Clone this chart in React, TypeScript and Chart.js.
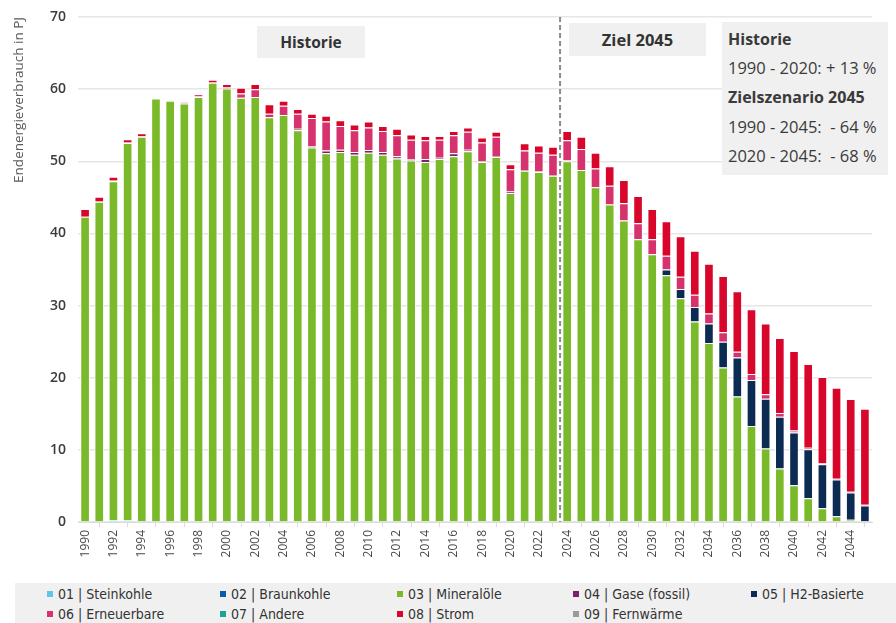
import React, { useEffect, useRef } from "react";
import Chart from "chart.js/auto";

const years = [
  "1990","1991","1992","1993","1994","1995","1996","1997","1998","1999",
  "2000","2001","2002","2003","2004","2005","2006","2007","2008","2009",
  "2010","2011","2012","2013","2014","2015","2016","2017","2018","2019",
  "2020","2021","2022","2023","2024","2025","2026","2027","2028","2029",
  "2030","2031","2032","2033","2034","2035","2036","2037","2038","2039",
  "2040","2041","2042","2043","2044","2045",
];

const xTickLabels = [
  "1990","","1992","","1994","","1996","","1998","",
  "2000","","2002","","2004","","2006","","2008","",
  "2010","","2012","","2014","","2016","","2018","",
  "2020","","2022","","2024","","2026","","2028","",
  "2030","","2032","","2034","","2036","","2038","",
  "2040","","2042","","2044","",
];

const yTicks = [0, 10, 20, 30, 40, 50, 60, 70];

// 01 | Steinkohle
const steinkohle = [
  0,0,0.25,0.25,0,0,0,0,0,0,
  0,0,0,0,0,0,0,0,0,0,
  0,0,0,0,0,0,0,0,0,0,
  0,0,0,0,0,0,0,0,0,0,
  0,0,0,0,0,0,0,0,0,0,
  0,0,0,0,0,0,
];
// 02 | Braunkohle
const braunkohle = [
  0,0,0,0,0,0,0,0,0,0,
  0,0,0,0,0,0,0,0,0,0,
  0,0,0,0,0,0,0,0,0,0,
  0,0,0,0,0,0,0,0,0,0,
  0,0,0,0,0,0,0,0,0,0,
  0,0,0,0,0,0,
];
// 03 | Mineralöle
const mineraloele = [
  42.3,44.4,47.0,52.3,53.4,58.7,58.4,58.0,58.9,60.9,
  60.1,58.8,58.9,56.1,56.4,54.3,51.9,51.1,51.3,50.9,
  51.2,50.9,50.4,50.1,49.9,50.3,50.7,51.4,49.9,50.6,
  45.6,48.7,48.5,48.0,50.0,48.8,46.4,44.0,41.8,39.2,
  37.1,34.2,31.0,27.8,24.8,21.4,17.4,13.3,10.2,7.4,
  5.1,3.3,1.9,0.8,0.3,0,
];
// 04 | Gase (fossil)
const gase = [
  0,0,0,0,0,0,0,0,0,0,
  0,0,0,0,0,0.2,0.2,0.4,0.3,0.4,
  0.35,0.4,0.3,0.2,0.4,0.2,0.4,0.2,0.1,0.1,
  0.2,0.1,0.1,0.1,0.1,0,0,0,0,0,
  0,0,0,0,0,0,0,0,0,0,
  0,0,0,0,0,0,
];
// 05 | H2-Basierte
const h2 = [
  0,0,0,0,0,0,0,0,0,0,
  0,0,0,0,0,0,0,0,0,0,
  0,0,0,0,0,0,0,0,0,0,
  0,0,0,0,0,0,0,0,0,0,
  0,0.8,1.3,2.0,2.7,3.6,5.4,6.4,6.9,7.2,
  7.3,6.8,6.1,5.1,3.8,2.3,
];
// 06 | Erneuerbare
const erneuerbare = [
  0,0.1,0.15,0.1,0.1,0,0,0.2,0.1,0.1,
  0.2,0.6,1.1,0.5,1.3,2.1,3.9,4.0,3.3,3.0,
  3.15,2.9,2.9,2.7,2.6,2.5,2.5,2.5,2.6,2.7,
  3.1,2.7,2.6,2.8,2.8,2.9,2.6,2.6,2.4,2.2,
  2.1,1.9,1.7,1.7,1.4,1.3,0.8,0.8,0.6,0.5,
  0.3,0.2,0.15,0.1,0.1,0.1,
];
// 07 | Andere
const andere = [
  0,0,0,0,0,0,0,0,0,0,
  0,0,0,0,0,0,0,0,0,0,
  0,0,0,0,0,0,0,0,0,0,
  0,0,0,0,0,0,0,0,0,0,
  0,0,0,0,0,0,0,0,0,0,
  0,0,0,0,0,0,
];
// 08 | Strom
const strom = [
  1.1,0.6,0.45,0.4,0.4,0,0,0,0.3,0.3,
  0.4,0.8,0.7,1.3,0.7,0.65,0.6,0.8,0.8,0.8,
  0.8,0.7,0.9,0.7,0.6,0.5,0.6,0.6,0.7,0.7,
  0.7,1.0,1.0,1.1,1.3,1.7,2.2,2.7,3.2,3.8,
  4.2,4.8,5.6,6.1,6.9,7.8,8.4,9.0,9.8,10.4,
  11.0,11.6,11.95,12.6,12.85,13.3,
];
// 09 | Fernwärme
const fernwaerme = [
  0,0,0,0,0,0,0,0,0,0,
  0,0,0,0,0,0,0,0,0,0,
  0,0,0,0,0,0,0,0,0,0,
  0,0,0,0,0,0,0,0,0,0,
  0,0,0,0,0,0,0,0,0,0,
  0,0,0,0,0,0,
];

const seriesNames = [
  "01 | Steinkohle",
  "02 | Braunkohle",
  "03 | Mineralöle",
  "04 | Gase (fossil)",
  "05 | H2-Basierte",
  "06 | Erneuerbare",
  "07 | Andere",
  "08 | Strom",
  "09 | Fernwärme",
];
const seriesColors = [
  "#5cc6e8",
  "#0b5bab",
  "#7ab929",
  "#7a2270",
  "#0b2b52",
  "#d6336e",
  "#17a59a",
  "#d7062a",
  "#9a9a9a",
];
const seriesData = [steinkohle, braunkohle, mineraloele, gase, h2, erneuerbare, andere, strom, fernwaerme];

const splitBefore = "2024";

const statLines = [
  { text: "Historie", bold: true },
  { text: "1990 - 2020: + 13 %", bold: false },
  { text: "Zielszenario 2045", bold: true },
  { text: "1990 - 2045:  - 64 %", bold: false },
  { text: "2020 - 2045:  - 68 %", bold: false },
];

const dashedLinePlugin = {
  id: "dashedSplit",
  afterDatasetsDraw(chart: any) {
    const xs = chart.scales.x;
    const idx = years.indexOf(splitBefore);
    const x = (xs.getPixelForValue(idx - 1) + xs.getPixelForValue(idx)) / 2;
    const { top, bottom } = chart.chartArea;
    const ctx = chart.ctx;
    ctx.save();
    ctx.strokeStyle = "#8c8c8c";
    ctx.lineWidth = 2;
    ctx.setLineDash([5, 3]);
    ctx.beginPath();
    ctx.moveTo(x, top);
    ctx.lineTo(x, bottom);
    ctx.stroke();
    ctx.restore();
  },
};

export default function App() {
  const ref = useRef<HTMLCanvasElement | null>(null);
  useEffect(() => {
    if (!ref.current) return;
    const chart = new Chart(ref.current, {
      type: "bar",
      data: {
        labels: years,
        datasets: seriesNames.map((name, i) => ({
          label: name,
          data: seriesData[i],
          backgroundColor: seriesColors[i],
          borderColor: "rgba(255,255,255,0.85)",
          borderWidth: 1,
          stack: "s",
          barPercentage: 0.68,
          categoryPercentage: 1,
        })),
      },
      options: {
        animation: false,
        responsive: false,
        maintainAspectRatio: false,
        layout: { padding: { top: 17, right: 24, left: 0, bottom: 0 } },
        plugins: {
          legend: { display: false },
          tooltip: { enabled: false },
        },
        scales: {
          x: {
            stacked: true,
            afterFit: (s: any) => {
              s.height = 58;
            },
            grid: {
              display: true,
              drawOnChartArea: false,
              drawTicks: true,
              tickLength: 5,
              color: "#dcdcdc",
            },
            border: { display: true, color: "#dcdcdc", width: 1 },
            ticks: {
              autoSkip: false,
              maxRotation: 90,
              minRotation: 90,
              padding: 3,
              color: "#4a4a4a",
              font: { family: "'Open Sans', sans-serif", size: 12 },
              callback: (_v: any, i: number) => xTickLabels[i] || null,
            },
          },
          y: {
            stacked: true,
            min: 0,
            max: 70,
            afterFit: (s: any) => {
              s.width = 78;
              s.paddingTop = 0;
              s.paddingBottom = 0;
            },
            afterBuildTicks: (s: any) => {
              s.ticks = yTicks.map((v) => ({ value: v }));
            },
            grid: {
              color: "#e6e6e6",
              lineWidth: 1.5,
              drawTicks: false,
            },
            border: { display: false },
            ticks: {
              padding: 12,
              color: "#3c3c3c",
              font: { family: "'Open Sans', sans-serif", size: 14, weight: "600" as any },
            },
            title: {
              display: true,
              text: "Endenergieverbrauch in PJ",
              align: "end",
              color: "#5a5a5a",
              padding: { top: 11, bottom: 0 },
              font: { family: "'Open Sans', sans-serif", size: 13.5 },
            },
          },
        },
      },
      plugins: [dashedLinePlugin],
    });
    return () => chart.destroy();
  }, []);

  const boxFont = "'Open Sans', sans-serif";
  const legendFont = "'Liberation Sans Narrow', 'DejaVu Sans Condensed', 'Open Sans', sans-serif";
  const legendCols = [47, 220, 397, 573, 751];

  return (
    <div style={{ position: "fixed", left: 0, top: 0, width: 896, height: 623, background: "#fff", overflow: "hidden" }}>
      <canvas ref={ref} width={896} height={580} style={{ position: "absolute", left: 0, top: 0, width: 896, height: 580 }} />
      <div style={{ position: "absolute", left: 257, top: 26, width: 108, height: 32, background: "#f0f0f0", display: "flex", alignItems: "center", justifyContent: "center", fontFamily: boxFont, fontWeight: 700, fontSize: 15.5, color: "#333" }}>
        Historie
      </div>
      <div style={{ position: "absolute", left: 569, top: 23, width: 137, height: 33, background: "#f0f0f0", display: "flex", alignItems: "center", justifyContent: "center", fontFamily: boxFont, fontWeight: 700, fontSize: 16.5, color: "#333" }}>
        Ziel 2045
      </div>
      <div style={{ position: "absolute", left: 722, top: 22, width: 166, height: 153, background: "#f0f0f0", fontFamily: boxFont, color: "#3a3a3a" }}>
        {statLines.map((l, i) => (
          <div key={i} style={{ position: "absolute", left: 6, top: 6 + i * 29.2, fontSize: l.bold ? 16 : 16.5, fontWeight: l.bold ? 700 : 400, whiteSpace: "pre", lineHeight: "22px" }}>
            {l.text}
          </div>
        ))}
      </div>
      <div style={{ position: "absolute", left: 15, top: 583, width: 881, height: 40, background: "#f0f0f0" }} />
      {seriesNames.map((name, i) => {
        const row = i < 5 ? 0 : 1;
        const col = i < 5 ? i : i - 5;
        return (
          <div key={name} style={{ position: "absolute", left: legendCols[col], top: 585 + row * 20, height: 18, display: "flex", alignItems: "center", fontFamily: legendFont, fontSize: 14, color: "#333", whiteSpace: "nowrap" }}>
            <span style={{ display: "inline-block", width: 6, height: 6, background: seriesColors[i], marginRight: 5 }} />
            {name}
          </div>
        );
      })}
    </div>
  );
}
